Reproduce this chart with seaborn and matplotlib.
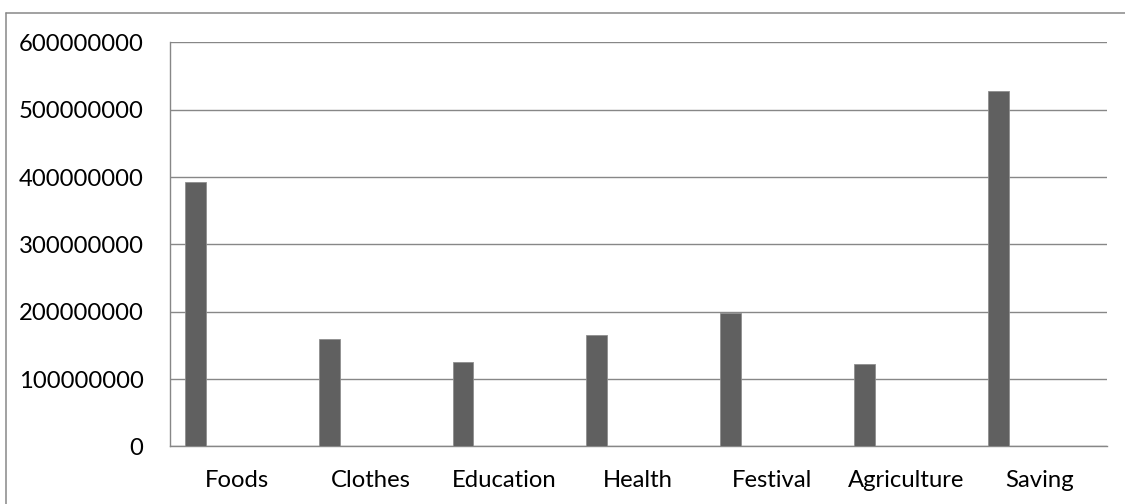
import matplotlib
matplotlib.use("Agg")
import matplotlib.pyplot as plt
import matplotlib.ticker as mticker
from matplotlib.lines import Line2D
import pandas as pd
import seaborn as sns

# Expenditure by heading
categories = ["Foods", "Clothes", "Education", "Health", "Festival", "Agriculture", "Saving"]
amounts = [393000000, 159000000, 125000000, 166000000, 198000000, 123000000, 528000000]
y_ticks = [0, 100000000, 200000000, 300000000, 400000000, 500000000, 600000000]

df = pd.DataFrame({"category": categories, "amount": amounts})

sns.set_theme(style="white")
plt.rcParams["font.family"] = ["Lato", "DejaVu Sans"]

GRID = "#878787"
BAR = "#606060"

fig = plt.figure(figsize=(11.25, 5.04), dpi=100)
ax = fig.add_axes([0.1511, 0.1141, 0.9836 - 0.1511, 0.9161 - 0.1141])

sns.barplot(data=df, x="category", y="amount", order=categories,
            color=BAR, width=0.155, edgecolor="#8e8e8e", linewidth=0.6,
            saturation=1, ax=ax, zorder=3)

# bars sit in the left part of each category slot
for p in ax.patches:
    p.set_x(p.get_x() - 0.31)

ax.set_xlim(-0.5, len(categories) - 0.5)
ax.set_ylim(0, 600000000)
ax.set_yticks(y_ticks)
ax.yaxis.set_major_formatter(mticker.FuncFormatter(lambda v, _: f"{int(v)}"))
ax.set_xlabel("")
ax.set_ylabel("")

ax.yaxis.grid(True, color=GRID, linewidth=1.0)
ax.set_axisbelow(True)
for side in ("top", "right"):
    ax.spines[side].set_visible(False)
for side in ("left", "bottom"):
    ax.spines[side].set_color(GRID)
    ax.spines[side].set_linewidth(1.0)

ax.tick_params(axis="y", length=0, pad=19, labelsize=17.2, labelcolor="black")
ax.tick_params(axis="x", length=0, pad=17, labelsize=17.2, labelcolor="black")

# chart frame
fx = 6 / 1125
fy = 1 - 13 / 504
fig.add_artist(Line2D([fx, fx], [0, fy], transform=fig.transFigure, color=GRID, linewidth=1.1))
fig.add_artist(Line2D([fx, 1.0], [fy, fy], transform=fig.transFigure, color=GRID, linewidth=1.1))

fig.savefig("out.png", dpi=100)
